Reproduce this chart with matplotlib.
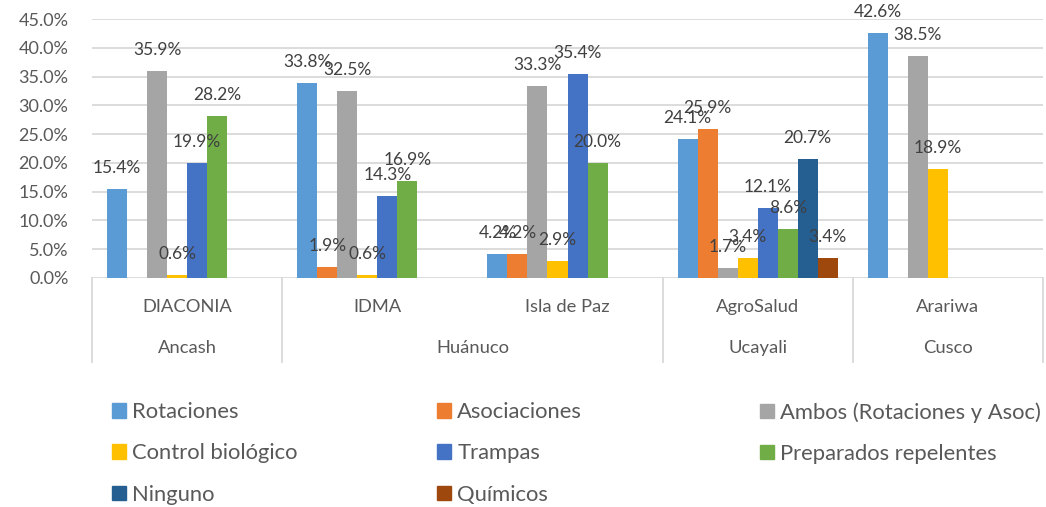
import matplotlib
matplotlib.use("Agg")
import matplotlib.pyplot as plt
from matplotlib.patches import Patch
from matplotlib.transforms import blended_transform_factory

plt.rcParams['font.family'] = ['Lato', 'DejaVu Sans']

# data
orgs = ['DIACONIA', 'IDMA', 'Isla de Paz', 'AgroSalud', 'Arariwa']
regions = ['Ancash', 'Huánuco', 'Ucayali', 'Cusco']
region_centers = [0, 1.5, 3, 4]
series = ['Rotaciones', 'Asociaciones', 'Ambos (Rotaciones y Asoc)', 'Control biológico',
          'Trampas', 'Preparados repelentes', 'Ninguno', 'Químicos']
rotaciones = [15.4, 33.8, 4.2, 24.1, 42.6]
asociaciones = [0, 1.9, 4.2, 25.9, 0]
ambos = [35.9, 32.5, 33.3, 1.7, 38.5]
control_bio = [0.6, 0.6, 2.9, 3.4, 18.9]
trampas = [19.9, 14.3, 35.4, 12.1, 0]
preparados = [28.2, 16.9, 20.0, 8.6, 0]
ninguno = [0, 0, 0, 20.7, 0]
quimicos = [0, 0, 0, 3.4, 0]
values = [rotaciones, asociaciones, ambos, control_bio, trampas, preparados, ninguno, quimicos]
colors = ['#5B9BD5', '#ED7D31', '#A5A5A5', '#FFC000', '#4472C4', '#70AD47', '#255E91', '#9E480E']

W, H = 1046, 507
fig = plt.figure(figsize=(W / 100, H / 100), dpi=100)
ax = fig.add_axes([92 / W, 1 - 278 / H, (1043 - 92) / W, (278 - 19) / H])

bw = 20 / 190
for k, (vals, c) in enumerate(zip(values, colors)):
    xs = [i + (k - 3.5) * bw for i in range(len(orgs))]
    ax.bar(xs, vals, width=bw, color=c, zorder=2)
    for x, v in zip(xs, vals):
        if v > 0:
            ax.annotate(f'{v:.1f}%', (x, v), xytext=(0, 21), textcoords='offset pixels',
                        ha='center', va='center', fontsize=12.5, color='#404040', zorder=3)

ax.set_xlim(-0.5, 4.5)
ax.set_ylim(0, 45)
yt = list(range(0, 50, 5))
ax.set_yticks(yt)
ax.set_yticklabels([f'{t:.1f}%' for t in yt])
ax.tick_params(axis='y', length=0, pad=17, labelsize=13, labelcolor='#595959')
ax.set_xticks([])
for s in ax.spines.values():
    s.set_visible(False)
for t in yt:
    ax.axhline(t, color='#D9D9D9', lw=1.3, zorder=1)

# two-level category axis
tr = blended_transform_factory(ax.transData, ax.transAxes)
for xb in [-0.5, 0.5, 2.5, 3.5, 4.5]:
    ax.plot([xb, xb], [0, -0.324], transform=tr, color='#D9D9D9', lw=1.3, clip_on=False)
for i, name in enumerate(orgs):
    ax.text(i, -0.112, name, transform=tr, ha='center', va='center', fontsize=13.2, color='#595959')
for xc, name in zip(region_centers, regions):
    ax.text(xc, -0.27, name, transform=tr, ha='center', va='center', fontsize=13.2, color='#595959')

# legend, three columns
handles = [Patch(color=c) for c in colors]
cols = [[0, 3, 6], [1, 4, 7], [2, 5]]
col_x = [112, 437, 760]
for xcol, idx in zip(col_x, cols):
    fig.legend([handles[i] for i in idx], [series[i] for i in idx], loc='upper left',
               bbox_to_anchor=(xcol / W, 1 - 402 / H), frameon=False, fontsize=15.8,
               handlelength=0.64, handleheight=0.64, handletextpad=0.28, labelspacing=0.97,
               labelcolor='#595959', borderaxespad=0, borderpad=0)

fig.savefig('out.png', dpi=100)
